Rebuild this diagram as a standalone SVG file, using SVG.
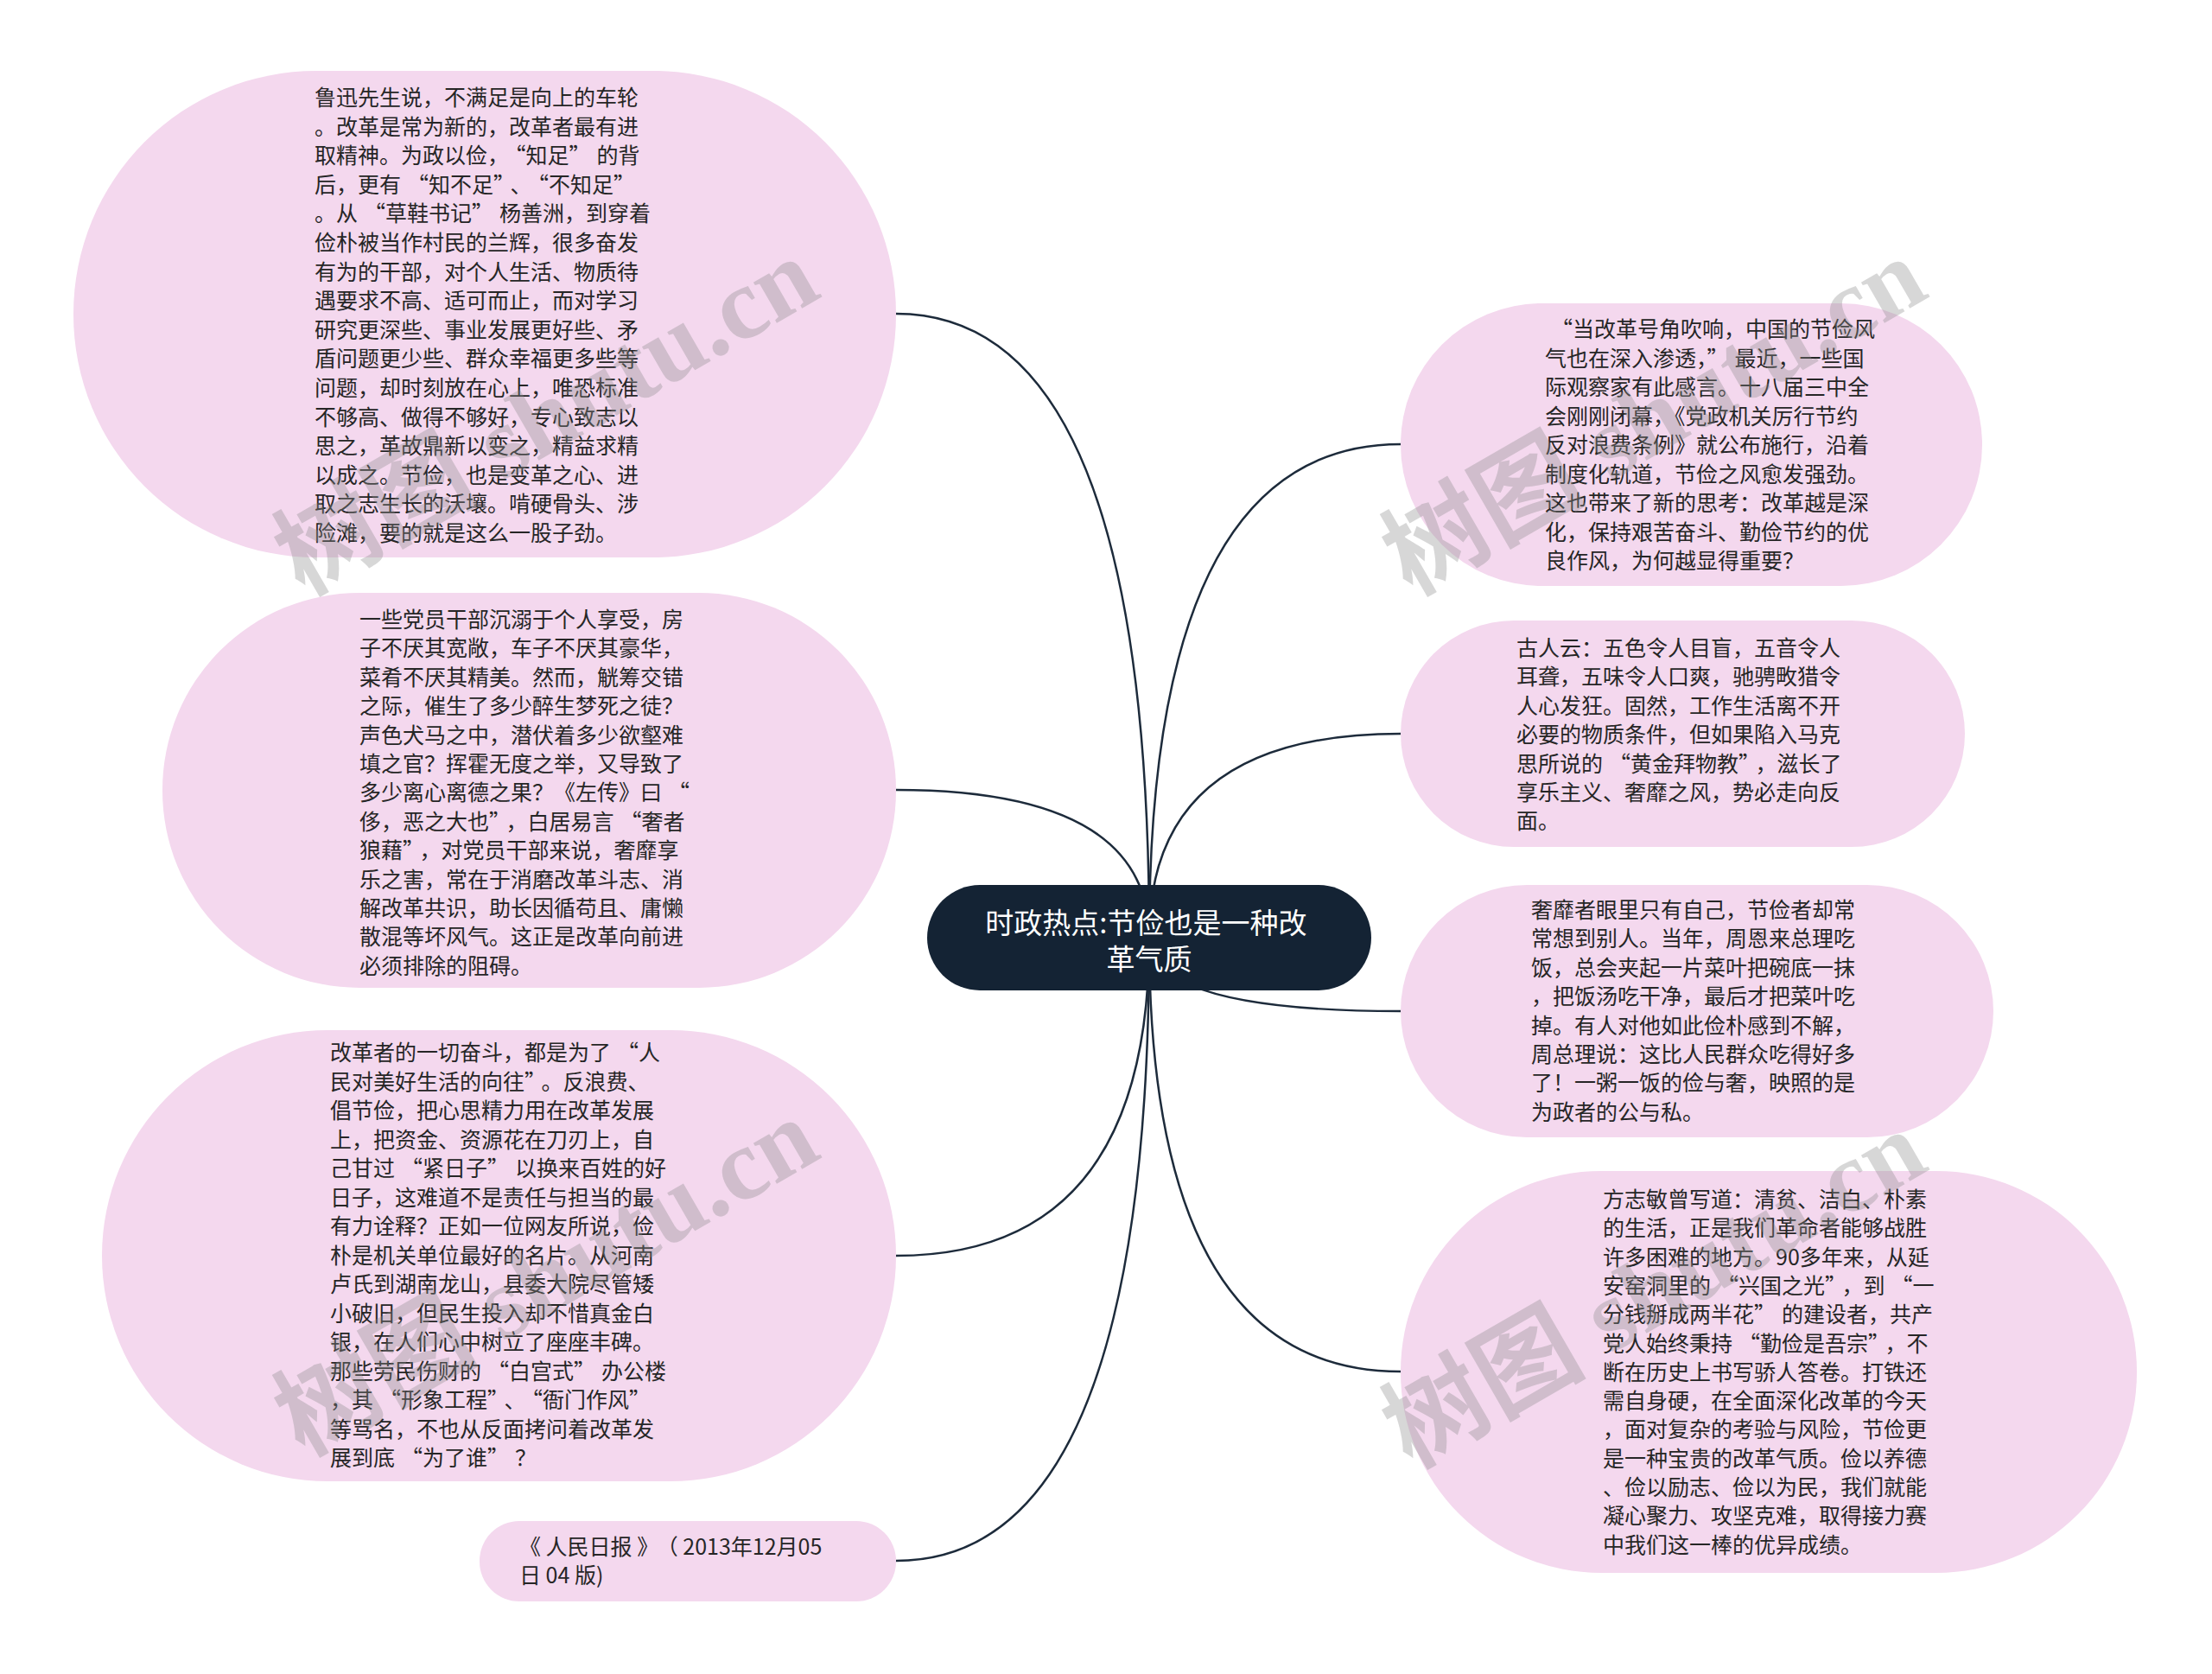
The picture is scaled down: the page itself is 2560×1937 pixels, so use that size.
<svg xmlns="http://www.w3.org/2000/svg" width="2560" height="1937" viewBox="0 0 2560 1937">
<style>
.bg{fill:#ffffff}
.node{fill:#f4d8ee}
.center{fill:#142334}
.t{font-family:"Noto Sans CJK SC","Noto Sans",sans-serif;font-size:25px;fill:#262626}
.ct{font-family:"Noto Sans CJK SC","Noto Sans",sans-serif;font-size:33px;fill:#ffffff;text-anchor:middle}
.edge{fill:none;stroke:#1d2b3b;stroke-width:2.5}
.wm{font-family:"Liberation Serif","Noto Sans CJK SC",serif;font-size:118px;font-weight:bold;fill:#8c8c8c;fill-opacity:0.35}
</style>
<rect class="bg" x="0" y="0" width="2560" height="1937"/>
<g id="connectors">
<path class="edge" d="M1037 363 Q1330 363 1330 1085"/>
<path class="edge" d="M1037 914 Q1330 914 1330 1085"/>
<path class="edge" d="M1037 1453 Q1330 1453 1330 1085"/>
<path class="edge" d="M1037 1806 Q1330 1806 1330 1085"/>
<path class="edge" d="M1621 514 Q1330 514 1330 1085"/>
<path class="edge" d="M1621 849 Q1330 849 1330 1085"/>
<path class="edge" d="M1621 1170 Q1330 1170 1330 1085"/>
<path class="edge" d="M1621 1587 Q1330 1587 1330 1085"/>
</g>
<g id="node-l1">
<rect class="node" x="85" y="82" width="952" height="563" rx="281" ry="281"/>
<text class="t" x="364" y="122">
<tspan x="364" y="122">鲁迅先生说，不满足是向上的车轮</tspan>
<tspan x="364" dy="33.6">。改革是常为新的，改革者最有进</tspan>
<tspan x="364" dy="33.6">取精神。为政以俭，<tspan dx="7">“</tspan>知足”<tspan dx="7">的背</tspan></tspan>
<tspan x="364" dy="33.6">后，更有<tspan dx="7">“</tspan>知不足”<tspan dx="7">、</tspan><tspan dx="7">“</tspan>不知足”</tspan>
<tspan x="364" dy="33.6">。从<tspan dx="7">“</tspan>草鞋书记”<tspan dx="7">杨善洲，到穿着</tspan></tspan>
<tspan x="364" dy="33.6">俭朴被当作村民的兰辉，很多奋发</tspan>
<tspan x="364" dy="33.6">有为的干部，对个人生活、物质待</tspan>
<tspan x="364" dy="33.6">遇要求不高、适可而止，而对学习</tspan>
<tspan x="364" dy="33.6">研究更深些、事业发展更好些、矛</tspan>
<tspan x="364" dy="33.6">盾问题更少些、群众幸福更多些等</tspan>
<tspan x="364" dy="33.6">问题，却时刻放在心上，唯恐标准</tspan>
<tspan x="364" dy="33.6">不够高、做得不够好，专心致志以</tspan>
<tspan x="364" dy="33.6">思之，革故鼎新以变之，精益求精</tspan>
<tspan x="364" dy="33.6">以成之。节俭，也是变革之心、进</tspan>
<tspan x="364" dy="33.6">取之志生长的沃壤。啃硬骨头、涉</tspan>
<tspan x="364" dy="33.6">险滩，要的就是这么一股子劲。</tspan>
</text>
</g>
<g id="node-l2">
<rect class="node" x="188" y="686" width="849" height="457" rx="228" ry="228"/>
<text class="t" x="416" y="726">
<tspan x="416" y="726">一些党员干部沉溺于个人享受，房</tspan>
<tspan x="416" dy="33.4">子不厌其宽敞，车子不厌其豪华，</tspan>
<tspan x="416" dy="33.4">菜肴不厌其精美。然而，觥筹交错</tspan>
<tspan x="416" dy="33.4">之际，催生了多少醉生梦死之徒？</tspan>
<tspan x="416" dy="33.4">声色犬马之中，潜伏着多少欲壑难</tspan>
<tspan x="416" dy="33.4">填之官？挥霍无度之举，又导致了</tspan>
<tspan x="416" dy="33.4">多少离心离德之果？《左传》曰<tspan dx="7">“</tspan></tspan>
<tspan x="416" dy="33.4">侈，恶之大也”<tspan dx="7">，白居易言</tspan><tspan dx="7">“</tspan>奢者</tspan>
<tspan x="416" dy="33.4">狼藉”<tspan dx="7">，对党员干部来说，奢靡享</tspan></tspan>
<tspan x="416" dy="33.4">乐之害，常在于消磨改革斗志、消</tspan>
<tspan x="416" dy="33.4">解改革共识，助长因循苟且、庸懒</tspan>
<tspan x="416" dy="33.4">散混等坏风气。这正是改革向前进</tspan>
<tspan x="416" dy="33.4">必须排除的阻碍。</tspan>
</text>
</g>
<g id="node-l3">
<rect class="node" x="118" y="1192" width="919" height="522" rx="261" ry="261"/>
<text class="t" x="382" y="1227">
<tspan x="382" y="1227">改革者的一切奋斗，都是为了<tspan dx="7">“</tspan>人</tspan>
<tspan x="382" dy="33.5">民对美好生活的向往”<tspan dx="7">。反浪费、</tspan></tspan>
<tspan x="382" dy="33.5">倡节俭，把心思精力用在改革发展</tspan>
<tspan x="382" dy="33.5">上，把资金、资源花在刀刃上，自</tspan>
<tspan x="382" dy="33.5">己甘过<tspan dx="7">“</tspan>紧日子”<tspan dx="7">以换来百姓的好</tspan></tspan>
<tspan x="382" dy="33.5">日子，这难道不是责任与担当的最</tspan>
<tspan x="382" dy="33.5">有力诠释？正如一位网友所说，俭</tspan>
<tspan x="382" dy="33.5">朴是机关单位最好的名片。从河南</tspan>
<tspan x="382" dy="33.5">卢氏到湖南龙山，县委大院尽管矮</tspan>
<tspan x="382" dy="33.5">小破旧，但民生投入却不惜真金白</tspan>
<tspan x="382" dy="33.5">银，在人们心中树立了座座丰碑。</tspan>
<tspan x="382" dy="33.5">那些劳民伤财的<tspan dx="7">“</tspan>白宫式”<tspan dx="7">办公楼</tspan></tspan>
<tspan x="382" dy="33.5">，其<tspan dx="7">“</tspan>形象工程”<tspan dx="7">、</tspan><tspan dx="7">“</tspan>衙门作风”</tspan>
<tspan x="382" dy="33.5">等骂名，不也从反面拷问着改革发</tspan>
<tspan x="382" dy="33.5">展到底<tspan dx="7">“</tspan>为了谁”<tspan dx="7">？</tspan></tspan>
</text>
</g>
<g id="node-source">
<rect class="node" x="555" y="1760" width="482" height="93" rx="46" ry="46"/>
<text class="t" x="601" y="1799">
<tspan x="601" y="1799">《 人民日报 》<tspan dx="10">（ 2013年12月05</tspan></tspan>
<tspan x="601" dy="33">日 04 版)</tspan>
</text>
</g>
<g id="node-center">
<rect class="center" x="1073" y="1024" width="514" height="122" rx="61" ry="61"/>
<text class="ct" x="1330" y="1080">
<tspan x="1330" y="1080">时政热点:节俭也是一种改</tspan>
<tspan x="1330" dy="42">革气质</tspan>
</text>
</g>
<g id="node-r1">
<rect class="node" x="1621" y="351" width="673" height="327" rx="163" ry="163"/>
<text class="t" x="1788" y="390">
<tspan x="1788" y="390"><tspan dx="7">“</tspan>当改革号角吹响，中国的节俭风</tspan>
<tspan x="1788" dy="33.5">气也在深入渗透，”<tspan dx="7">最近，一些国</tspan></tspan>
<tspan x="1788" dy="33.5">际观察家有此感言。十八届三中全</tspan>
<tspan x="1788" dy="33.5">会刚刚闭幕，《党政机关厉行节约</tspan>
<tspan x="1788" dy="33.5">反对浪费条例》就公布施行，沿着</tspan>
<tspan x="1788" dy="33.5">制度化轨道，节俭之风愈发强劲。</tspan>
<tspan x="1788" dy="33.5">这也带来了新的思考：改革越是深</tspan>
<tspan x="1788" dy="33.5">化，保持艰苦奋斗、勤俭节约的优</tspan>
<tspan x="1788" dy="33.5">良作风，为何越显得重要？</tspan>
</text>
</g>
<g id="node-r2">
<rect class="node" x="1621" y="718" width="653" height="262" rx="131" ry="131"/>
<text class="t" x="1755" y="759">
<tspan x="1755" y="759">古人云：五色令人目盲，五音令人</tspan>
<tspan x="1755" dy="33.4">耳聋，五味令人口爽，驰骋畋猎令</tspan>
<tspan x="1755" dy="33.4">人心发狂。固然，工作生活离不开</tspan>
<tspan x="1755" dy="33.4">必要的物质条件，但如果陷入马克</tspan>
<tspan x="1755" dy="33.4">思所说的<tspan dx="7">“</tspan>黄金拜物教”<tspan dx="7">，滋长了</tspan></tspan>
<tspan x="1755" dy="33.4">享乐主义、奢靡之风，势必走向反</tspan>
<tspan x="1755" dy="33.4">面。</tspan>
</text>
</g>
<g id="node-r3">
<rect class="node" x="1621" y="1024" width="686" height="292" rx="146" ry="146"/>
<text class="t" x="1772" y="1062">
<tspan x="1772" y="1062">奢靡者眼里只有自己，节俭者却常</tspan>
<tspan x="1772" dy="33.4">常想到别人。当年，周恩来总理吃</tspan>
<tspan x="1772" dy="33.4">饭，总会夹起一片菜叶把碗底一抹</tspan>
<tspan x="1772" dy="33.4">，把饭汤吃干净，最后才把菜叶吃</tspan>
<tspan x="1772" dy="33.4">掉。有人对他如此俭朴感到不解，</tspan>
<tspan x="1772" dy="33.4">周总理说：这比人民群众吃得好多</tspan>
<tspan x="1772" dy="33.4">了！一粥一饭的俭与奢，映照的是</tspan>
<tspan x="1772" dy="33.4">为政者的公与私。</tspan>
</text>
</g>
<g id="node-r4">
<rect class="node" x="1621" y="1355" width="852" height="465" rx="232" ry="232"/>
<text class="t" x="1855" y="1397">
<tspan x="1855" y="1397">方志敏曾写道：清贫、洁白、朴素</tspan>
<tspan x="1855" dy="33.3">的生活，正是我们革命者能够战胜</tspan>
<tspan x="1855" dy="33.3">许多困难的地方。90多年来，从延</tspan>
<tspan x="1855" dy="33.3">安窑洞里的<tspan dx="7">“</tspan>兴国之光”<tspan dx="7">，到</tspan><tspan dx="7">“</tspan>一</tspan>
<tspan x="1855" dy="33.3">分钱掰成两半花”<tspan dx="7">的建设者，共产</tspan></tspan>
<tspan x="1855" dy="33.3">党人始终秉持<tspan dx="7">“</tspan>勤俭是吾宗”<tspan dx="7">，不</tspan></tspan>
<tspan x="1855" dy="33.3">断在历史上书写骄人答卷。打铁还</tspan>
<tspan x="1855" dy="33.3">需自身硬，在全面深化改革的今天</tspan>
<tspan x="1855" dy="33.3">，面对复杂的考验与风险，节俭更</tspan>
<tspan x="1855" dy="33.3">是一种宝贵的改革气质。俭以养德</tspan>
<tspan x="1855" dy="33.3">、俭以励志、俭以为民，我们就能</tspan>
<tspan x="1855" dy="33.3">凝心聚力、攻坚克难，取得接力赛</tspan>
<tspan x="1855" dy="33.3">中我们这一棒的优异成绩。</tspan>
</text>
</g>
<g id="watermarks">
<text class="wm" transform="translate(351 690) rotate(-30)">树图 shutu.cn</text>
<text class="wm" transform="translate(351 1686) rotate(-30)">树图 shutu.cn</text>
<text class="wm" transform="translate(1633 690) rotate(-30)">树图 shutu.cn</text>
<text class="wm" transform="translate(1633 1700) rotate(-30)">树图 shutu.cn</text>
</g>
</svg>
